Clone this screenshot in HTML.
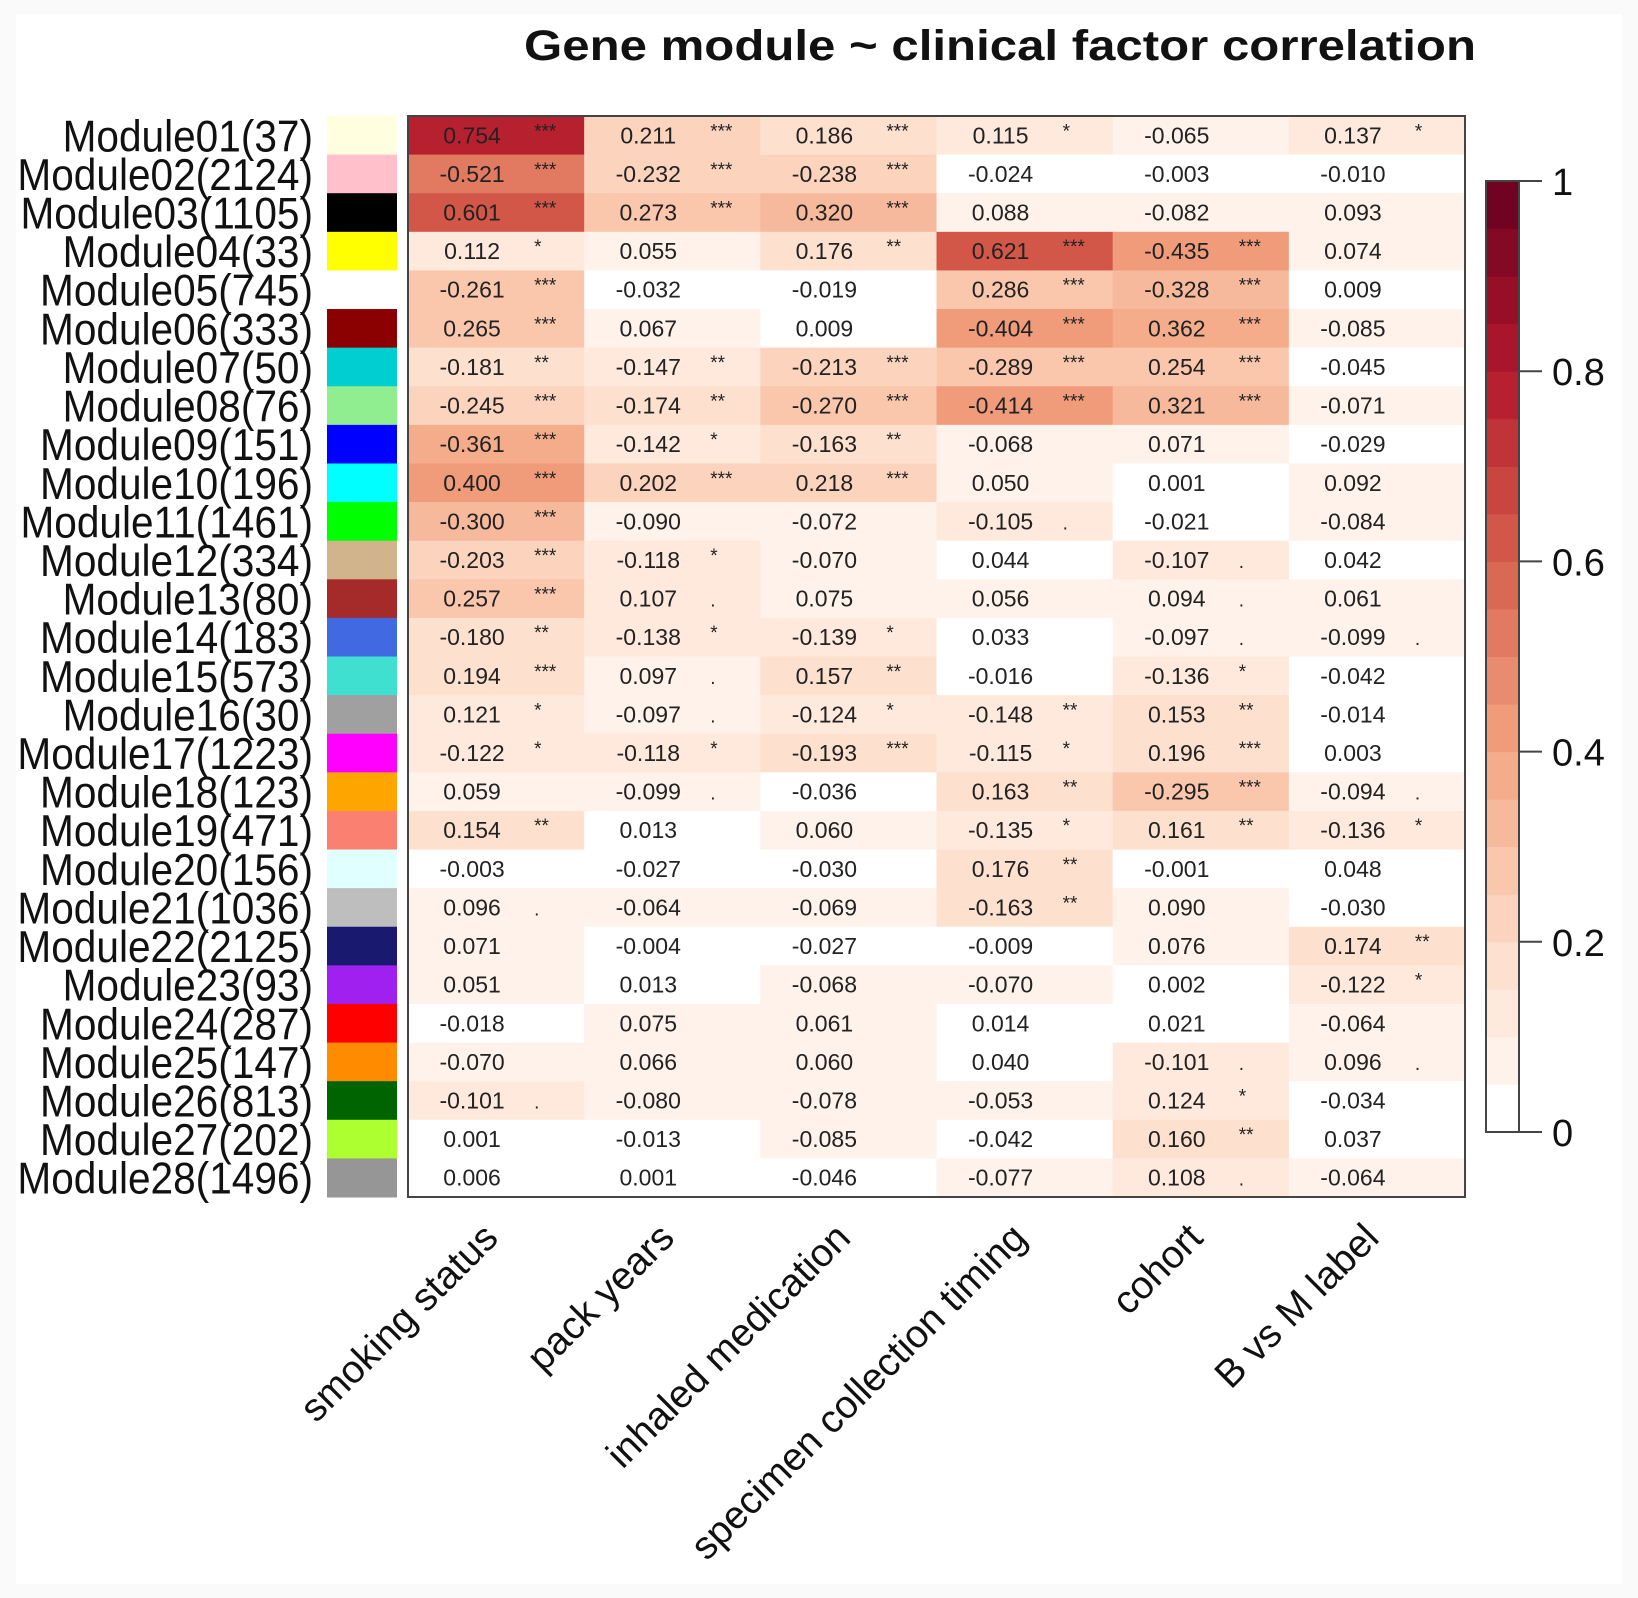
<!DOCTYPE html>
<html><head><meta charset="utf-8"><style>
html,body{margin:0;padding:0;background:#fff;}
svg{display:block;font-family:"Liberation Sans",Arial,sans-serif;}
</style></head><body>
<svg id="chart" width="1638" height="1598" viewBox="0 0 1638 1598" xmlns="http://www.w3.org/2000/svg">
<rect x="0" y="0" width="1638" height="1598" fill="#fafafa"/>
<rect x="16" y="14" width="1606" height="1570" fill="#ffffff"/>
<text x="524" y="60" font-size="43" font-weight="bold" textLength="952" lengthAdjust="spacingAndGlyphs" fill="#111">Gene module ~ clinical factor correlation</text>
<g id="g"></g>
</svg>
<script>
const modules = ["Module01(37)","Module02(2124)","Module03(1105)","Module04(33)","Module05(745)","Module06(333)","Module07(50)","Module08(76)","Module09(151)","Module10(196)","Module11(1461)","Module12(334)","Module13(80)","Module14(183)","Module15(573)","Module16(30)","Module17(1223)","Module18(123)","Module19(471)","Module20(156)","Module21(1036)","Module22(2125)","Module23(93)","Module24(287)","Module25(147)","Module26(813)","Module27(202)","Module28(1496)"];
const moduleColors = ["#FFFFE0","#FFC0CB","#000000","#FFFF00","#FFFFFF","#8B0000","#00CED1","#90EE90","#0000FF","#00FFFF","#00FF00","#D2B48C","#A52A2A","#4169E1","#40E0D0","#A0A0A0","#FF00FF","#FFA500","#FA8072","#E0FFFF","#BEBEBE","#191970","#A020F0","#FF0000","#FF8C00","#006400","#ADFF2F","#969696"];
const traits = ["smoking status","pack years","inhaled medication","specimen collection timing","cohort","B vs M label"];
const corr = [
[0.754,0.211,0.186,0.115,-0.065,0.137],
[-0.521,-0.232,-0.238,-0.024,-0.003,-0.010],
[0.601,0.273,0.320,0.088,-0.082,0.093],
[0.112,0.055,0.176,0.621,-0.435,0.074],
[-0.261,-0.032,-0.019,0.286,-0.328,0.009],
[0.265,0.067,0.009,-0.404,0.362,-0.085],
[-0.181,-0.147,-0.213,-0.289,0.254,-0.045],
[-0.245,-0.174,-0.270,-0.414,0.321,-0.071],
[-0.361,-0.142,-0.163,-0.068,0.071,-0.029],
[0.400,0.202,0.218,0.050,0.001,0.092],
[-0.300,-0.090,-0.072,-0.105,-0.021,-0.084],
[-0.203,-0.118,-0.070,0.044,-0.107,0.042],
[0.257,0.107,0.075,0.056,0.094,0.061],
[-0.180,-0.138,-0.139,0.033,-0.097,-0.099],
[0.194,0.097,0.157,-0.016,-0.136,-0.042],
[0.121,-0.097,-0.124,-0.148,0.153,-0.014],
[-0.122,-0.118,-0.193,-0.115,0.196,0.003],
[0.059,-0.099,-0.036,0.163,-0.295,-0.094],
[0.154,0.013,0.060,-0.135,0.161,-0.136],
[-0.003,-0.027,-0.030,0.176,-0.001,0.048],
[0.096,-0.064,-0.069,-0.163,0.090,-0.030],
[0.071,-0.004,-0.027,-0.009,0.076,0.174],
[0.051,0.013,-0.068,-0.070,0.002,-0.122],
[-0.018,0.075,0.061,0.014,0.021,-0.064],
[-0.070,0.066,0.060,0.040,-0.101,0.096],
[-0.101,-0.080,-0.078,-0.053,0.124,-0.034],
[0.001,-0.013,-0.085,-0.042,0.160,0.037],
[0.006,0.001,-0.046,-0.077,0.108,-0.064]];
const stars = [
["***","***","***","*","","*"],
["***","***","***","","",""],
["***","***","***","","",""],
["*","","**","***","***",""],
["***","","","***","***",""],
["***","","","***","***",""],
["**","**","***","***","***",""],
["***","**","***","***","***",""],
["***","*","**","","",""],
["***","***","***","","",""],
["***","","",".","",""],
["***","*","","",".",""],
["***",".","","",".",""],
["**","*","*","",".","."],
["***",".","**","","*",""],
["*",".","*","**","**",""],
["*","*","***","*","***",""],
["",".","","**","***","."],
["**","","","*","**","*"],
["","","","**","",""],
[".","","","**","",""],
["","","","","","**"],
["","","","","","*"],
["","","","","",""],
["","","","",".","."],
[".","","","","*",""],
["","","","","**",""],
["","","","",".",""]];
const legendTicks = [0,0.2,0.4,0.6,0.8,1];

const NS="http://www.w3.org/2000/svg";
const g=document.getElementById('g');
const L=408,T=116,R=1465,B=1197;
const cw=(R-L)/traits.length, rh=(B-T)/modules.length;
const xPos=j=>L+j*cw, yPos=i=>T+i*rh;
const stops=[[0,[255,255,255]],[0.2,[253,219,199]],[0.4,[244,165,130]],[0.6,[214,96,77]],[0.8,[178,24,43]],[1,[103,0,31]]];
function col(v){const b=Math.floor(v*20);if(b<=0)return '#ffffff';
 v=Math.min(1,b/20+0.025);
 for(let k=1;k<stops.length;k++){if(v<=stops[k][0]){const a=stops[k-1],c2=stops[k],t=(v-a[0])/(c2[0]-a[0]);
 return 'rgb('+a[1].map((c,n)=>Math.round(c+(c2[1][n]-c)*t)).join(',')+')';}}return 'rgb(103,0,31)';}
function mk(tag,attrs,parent){const e=document.createElementNS(NS,tag);for(const k in attrs)e.setAttribute(k,attrs[k]);(parent||g).appendChild(e);return e;}
const cY=v=>1132-(v)*(1132-181);

for(let i=0;i<modules.length;i++){
 const t=mk('text',{x:0,y:0,'font-size':41,'text-anchor':'end',fill:'#111',transform:'translate(313 '+(yPos(i)+rh/2+16)+') scale(0.99 1.08)'});
 
 
 t.textContent=modules[i];
 const s=mk('rect',{x:327,y:yPos(i),width:70,height:rh+0.5,fill:moduleColors[i]});
 
 
 for(let j=0;j<traits.length;j++){
  const v=corr[i][j];
  const c=mk('rect',{x:xPos(j),y:yPos(i),width:cw+0.5,height:rh+0.5,fill:col(Math.abs(v))});
  
  
  const tv=mk('text',{x:xPos(j)+cw/2-24,y:yPos(i)+rh/2+8,'font-size':23,'text-anchor':'middle',fill:'#222'});
  
  
  tv.textContent=v.toFixed(3);
  if(stars[i][j]){const st=mk('text',{x:xPos(j)+cw/2+38,y:yPos(i)+rh/2+(stars[i][j]=='.'?8:2),'font-size':19,fill:'#222'});
   
   
   st.textContent=stars[i][j];}
 }
}
const fr=mk('rect',{x:L,y:T,width:R-L,height:B-T,fill:'none',stroke:'#444','stroke-width':2});


for(let j=0;j<traits.length;j++){
 const x=xPos(j)+cw/2+4,y=1240;
 const t=mk('text',{x:x,y:y,'font-size':39,'text-anchor':'end',fill:'#111',transform:'rotate(-45 '+x+' '+y+')'});
 
 
 t.textContent=traits[j];
}
for(let k=0;k<20;k++){
 const v0=k/20,v1=(k+1)/20;
 const r=mk('rect',{x:1486,y:cY(v1),width:33,height:cY(v0)-cY(v1)+0.5,fill:col(v0+0.001)});
 
 
}
const cb=mk('rect',{x:1486,y:181,width:33,height:951,fill:'none',stroke:'#444','stroke-width':2});


legendTicks.forEach(v=>{
 const l=mk('line',{x1:1519,x2:1542,y1:cY(v),y2:cY(v),stroke:'#444','stroke-width':2});
 
 
 const t=mk('text',{x:1552,y:cY(v)+14,'font-size':38,fill:'#111'});
 
 
 t.textContent=String(v);
});
</script>
</body></html>
